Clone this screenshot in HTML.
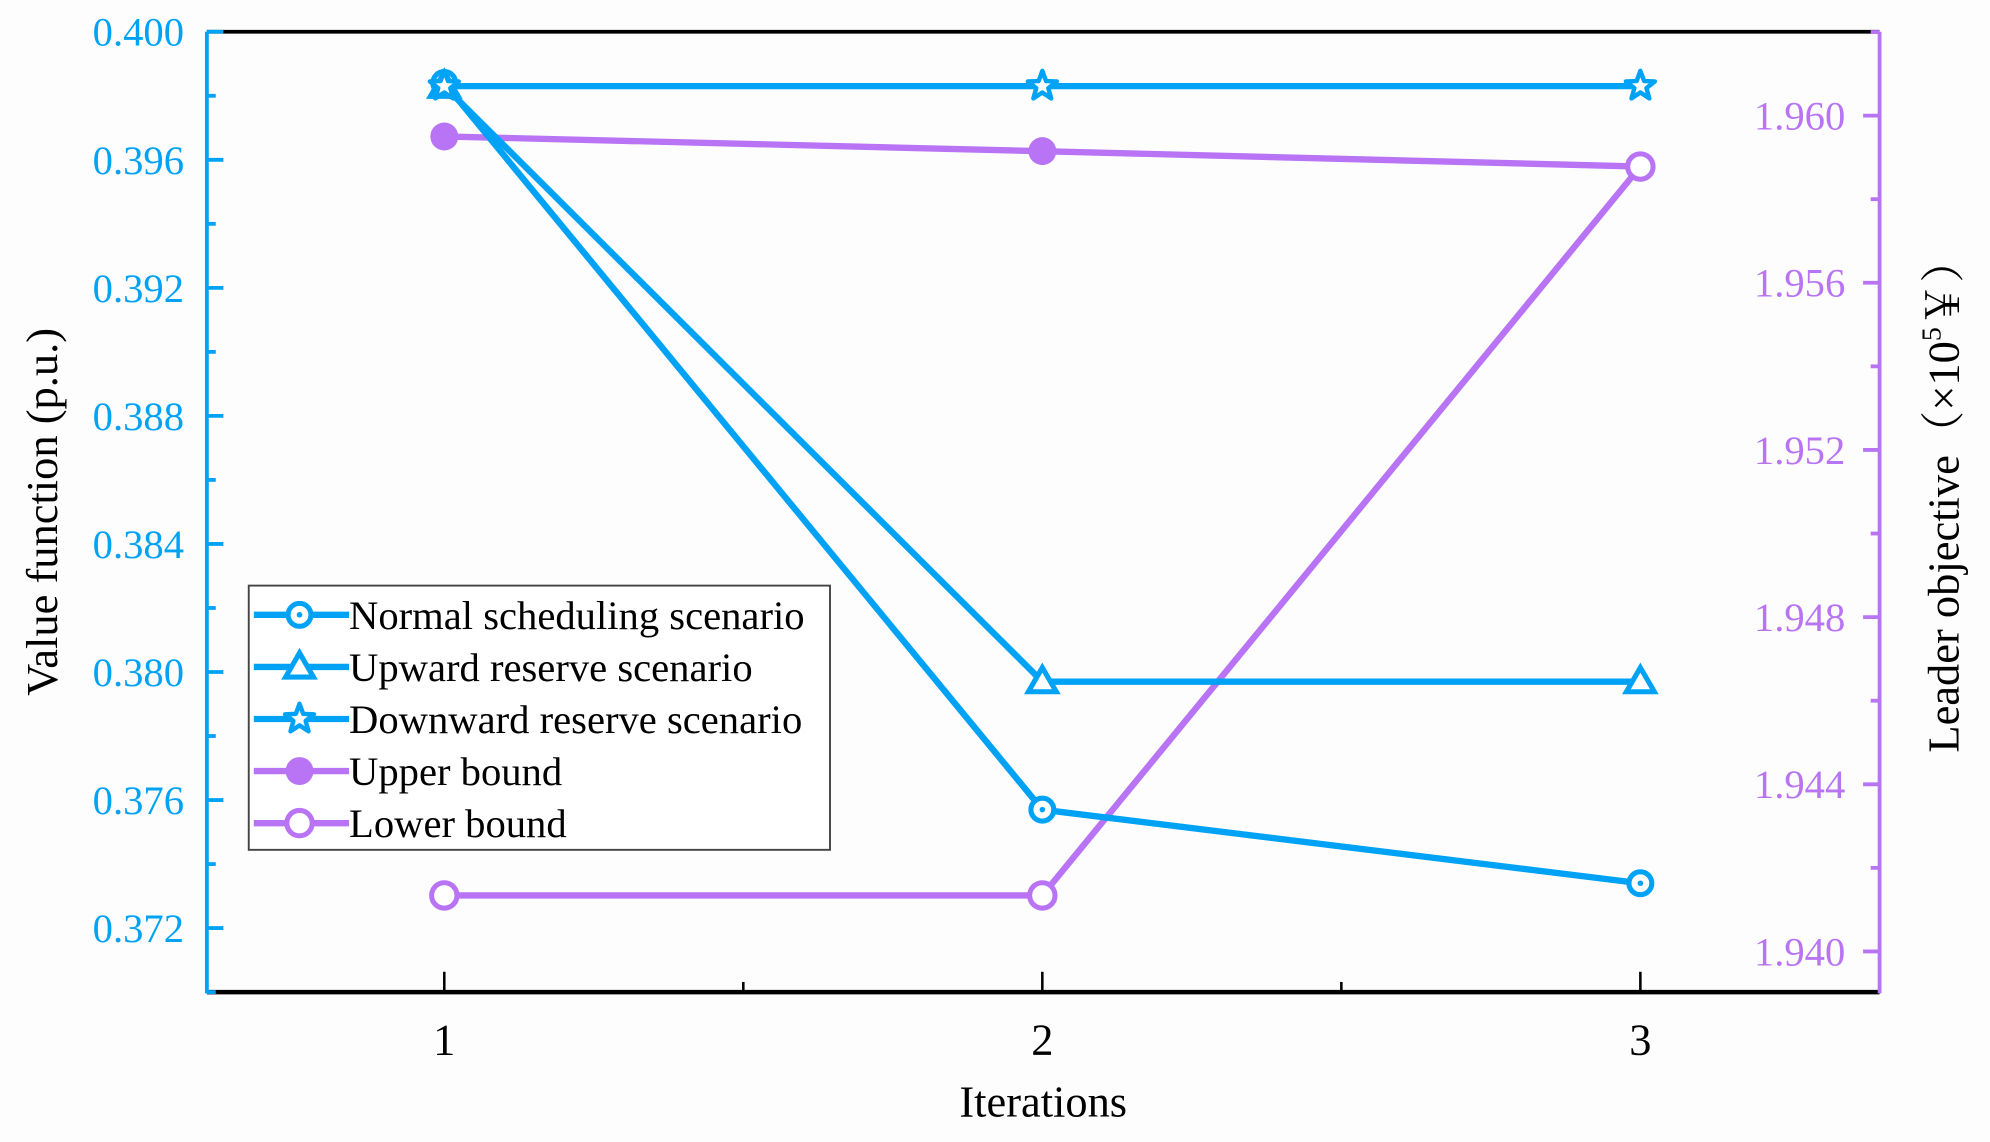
<!DOCTYPE html>
<html><head><meta charset="utf-8"><style>
html,body{margin:0;padding:0;background:#fff;}
svg{display:block;}
text{font-family:"Liberation Serif","Noto Serif CJK SC",serif;}
</style></head><body>
<svg id="chart" width="1990" height="1142" viewBox="0 0 1568 899" preserveAspectRatio="none" xmlns="http://www.w3.org/2000/svg">
<rect x="0" y="0" width="1568" height="899" fill="#fdfdfd"/>
<g id="plot"></g>
</svg>
<script>
const iterations = [1, 2, 3];
const normalValues = [0.3984, 0.3757, 0.3734];
const upwardValues = [0.3983, 0.3797, 0.3797];
const downwardValues = [0.3983, 0.3983, 0.3983];
const upperBoundValues = [1.9595, 1.95915, 1.95878];
const lowerBoundValues = [1.94134, 1.94134, 1.95878];
const leftTicks = [0.372, 0.376, 0.380, 0.384, 0.388, 0.392, 0.396, 0.400];
const rightTicks = [1.940, 1.944, 1.948, 1.952, 1.956, 1.960];
const xTicks = [1, 2, 3];

const BLUE = '#00a2f5', PURPLE = '#b874f5';
const L = 163, R = 1481, T = 25, B = 781;
function xs(v){ return L + (v - 0.603) / (3.4 - 0.603) * (R - L); }
function yl(v){ return T + (0.400 - v) / 0.030 * (B - T); }
function yr(v){ return 91 + (1.960 - v) / 0.020 * (749 - 91); }

const NS = 'http://www.w3.org/2000/svg';
const g = document.getElementById('plot');
function mk(tag, attrs, parent){
  const e = document.createElementNS(NS, tag);
  for (const k in attrs) e.setAttribute(k, attrs[k]);
  (parent || g).appendChild(e);
  return e;
}

let a;
a = mk('line', {x1:L, y1:T, x2:R, y2:T, stroke:'#000', 'stroke-width':3});
 
a = mk('line', {x1:L, y1:B, x2:R, y2:B, stroke:'#000', 'stroke-width':3.5});
 
a = mk('line', {x1:L, y1:T, x2:L, y2:B+1, stroke:BLUE, 'stroke-width':3});
 
a = mk('line', {x1:R, y1:T, x2:R, y2:B+1, stroke:PURPLE, 'stroke-width':3});
 

for (let v = 0.370; v <= 0.4001; v += 0.002){
  const y = yl(v);
  const major = Math.round(v * 1000) % 4 === 0;
  mk('line', {x1:L, y1:y, x2:L + (major ? 13 : 7), y2:y, stroke:BLUE, 'stroke-width':3});
}
leftTicks.forEach(v => {
  const t = mk('text', {x:145, y:yl(v) + 11, 'text-anchor':'end', 'font-size':32, fill:BLUE});
  t.textContent = v.toFixed(3);
  
  
});
for (let v = 1.940; v <= 1.9621; v += 0.002){
  const y = yr(v);
  const major = Math.round(v * 1000) % 4 === 0;
  mk('line', {x1:R, y1:y, x2:R - (major ? 13 : 7), y2:y, stroke:PURPLE, 'stroke-width':3});
}
rightTicks.forEach(v => {
  const t = mk('text', {x:1382, y:yr(v) + 11, 'font-size':32, fill:PURPLE});
  t.textContent = v.toFixed(3);
  
  
});
[1, 1.5, 2, 2.5, 3].forEach(v => {
  const major = Number.isInteger(v);
  mk('line', {x1:xs(v), y1:B, x2:xs(v), y2:B - (major ? 16 : 8), stroke:'#000', 'stroke-width':2});
});
xTicks.forEach(v => {
  const t = mk('text', {x:xs(v), y:830, 'text-anchor':'middle', 'font-size':35, fill:'#000'});
  t.textContent = String(v);
  
  
});

let t;
t = mk('text', {x:822, y:879, 'text-anchor':'middle', 'font-size':35, fill:'#000'});
t.textContent = 'Iterations';
 
t = mk('text', {x:0, y:0, 'text-anchor':'middle', 'font-size':35, fill:'#000', transform:'translate(45,403) rotate(-90)'});
t.textContent = 'Value function (p.u.)';
 
t = mk('text', {x:0, y:0, 'text-anchor':'middle', 'font-size':35, fill:'#000', transform:'translate(1543,390) rotate(-90)'});
t.innerHTML = 'Leader objective（×10<tspan font-size="22" dy="-14">5</tspan><tspan dy="14">￥）</tspan>';
 

function marker(type, cx, cy, color, parent){
  if (type === 'circle-dot'){
    mk('circle', {cx, cy, r:9, fill:'#fff', stroke:color, 'stroke-width':4}, parent);
    mk('circle', {cx, cy, r:2.2, fill:color}, parent);
  } else if (type === 'circle-open'){
    mk('circle', {cx, cy, r:10, fill:'#fff', stroke:color, 'stroke-width':4}, parent);
  } else if (type === 'filled'){
    mk('circle', {cx, cy, r:11, fill:color}, parent);
  } else if (type === 'triangle'){
    mk('polygon', {points:`${cx},${cy-11} ${cx+11},${cy+8} ${cx-11},${cy+8}`, fill:'#fff', stroke:color, 'stroke-width':4}, parent);
  } else if (type === 'star'){
    let p = [];
    for (let i = 0; i < 10; i++){
      const r = i % 2 ? 5 : 12, ang = -Math.PI/2 + i * Math.PI/5;
      p.push((cx + r*Math.cos(ang)).toFixed(1) + ',' + (cy + r*Math.sin(ang)).toFixed(1));
    }
    mk('polygon', {points:p.join(' '), fill:'#fff', stroke:color, 'stroke-width':3.5, 'stroke-linejoin':'round'}, parent);
  }
}

const series = [
  {name:'series-upper-bound', vals:upperBoundValues, scale:yr, color:PURPLE, m:'filled'},
  {name:'series-lower-bound', vals:lowerBoundValues, scale:yr, color:PURPLE, m:'circle-open'},
  {name:'series-normal-scheduling', vals:normalValues, scale:yl, color:BLUE, m:'circle-dot'},
  {name:'series-upward-reserve', vals:upwardValues, scale:yl, color:BLUE, m:'triangle'},
  {name:'series-downward-reserve', vals:downwardValues, scale:yl, color:BLUE, m:'star'},
];
series.forEach(s => {
  const grp = mk('g', {});
  
  
  const pts = iterations.map((x, i) => xs(x).toFixed(1) + ',' + s.scale(s.vals[i]).toFixed(1)).join(' ');
  mk('polyline', {points:pts, fill:'none', stroke:s.color, 'stroke-width':5, 'stroke-linejoin':'round'}, grp);
  iterations.forEach((x, i) => marker(s.m, xs(x), s.scale(s.vals[i]), s.color, grp));
});

const lg = mk('g', {});


mk('rect', {x:196, y:461, width:458, height:208, fill:'#fff', stroke:'#444', 'stroke-width':1.5}, lg);
const legendItems = [
  ['Normal scheduling scenario', BLUE, 'circle-dot'],
  ['Upward reserve scenario', BLUE, 'triangle'],
  ['Downward reserve scenario', BLUE, 'star'],
  ['Upper bound', PURPLE, 'filled'],
  ['Lower bound', PURPLE, 'circle-open'],
];
legendItems.forEach((it, i) => {
  const y = 484 + i * 41;
  const eg = mk('g', {}, lg);
  
  
  mk('line', {x1:200, y1:y, x2:275, y2:y, stroke:it[1], 'stroke-width':5}, eg);
  marker(it[2], 236, y, it[1], eg);
  const tx = mk('text', {x:275, y:y + 11, 'font-size':32, fill:'#000'}, eg);
  tx.textContent = it[0];
});
</script>
</body></html>
